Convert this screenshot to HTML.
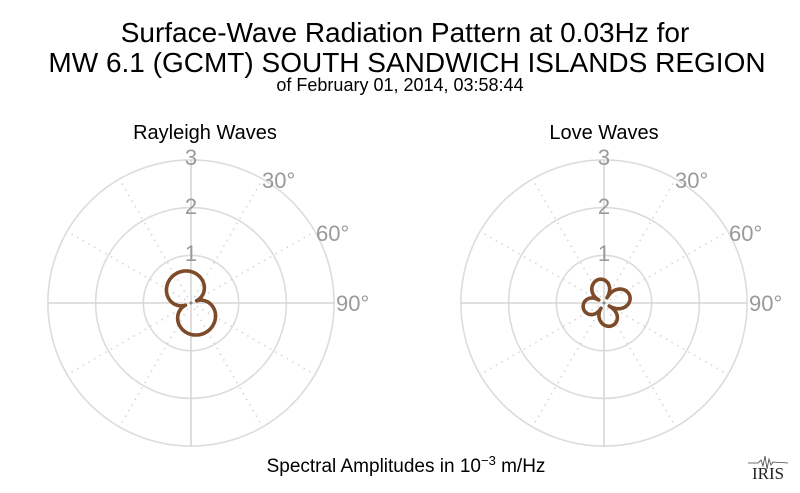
<!DOCTYPE html>
<html><head><style>
body{margin:0;background:#fff;}
svg{display:block;font-family:"Liberation Sans",sans-serif;}
</style></head><body>
<svg id="s" width="800" height="493" xmlns="http://www.w3.org/2000/svg">
<text x="405" y="42" font-size="28" text-anchor="middle" fill="#000">Surface-Wave Radiation Pattern at 0.03Hz for</text>
<text x="407" y="72" font-size="28" text-anchor="middle" fill="#000">MW 6.1 (GCMT) SOUTH SANDWICH ISLANDS REGION</text>
<text x="400" y="91" font-size="18" text-anchor="middle" fill="#000">of February 01, 2014, 03:58:44</text>
<text x="205" y="139" font-size="20" text-anchor="middle" fill="#000">Rayleigh Waves</text>
<text x="604" y="139" font-size="20" text-anchor="middle" fill="#000">Love Waves</text>
<text x="406" y="472" font-size="19" text-anchor="middle" fill="#000">Spectral Amplitudes in 10<tspan dy="-7" font-size="13">−3</tspan><tspan dy="7"> m/Hz</tspan></text>
<g transform="translate(748,455)">
<path d="M0,8 L10,8 L13,5 L15,11 L17,1 L19,14 L21,4 L23,10 L25,7 L40,8" fill="none" stroke="#444" stroke-width="0.8"/>
<text x="20" y="24" font-family="Liberation Serif,serif" font-size="17" text-anchor="middle" fill="#222">IRIS</text>
</g>
<g id="g"></g>
</svg>
<script>
var g=document.getElementById('g'),h='';
function polar(cx,cy,f,phi){
 var R=143,u=47.7;
 for(var k=1;k<=3;k++)h+='<circle cx="'+cx+'" cy="'+cy+'" r="'+(k*u)+'" fill="none" stroke="#dcdcdc" stroke-width="1.6"/>';
 for(var a=0;a<360;a+=30){var t=a*Math.PI/180,x=cx+R*Math.sin(t),y=cy-R*Math.cos(t);
  var sol=a%90==0;h+='<line x1="'+cx+'" y1="'+cy+'" x2="'+x.toFixed(1)+'" y2="'+y.toFixed(1)+'" stroke="#d6d6d6" stroke-width="1.6" '+(sol?'':'stroke-dasharray="1.5,5"')+'/>';}
 var st='font-size="22" fill="#9a9a9a"';
 h+='<text x="'+cx+'" y="'+(cy-138)+'" '+st+' text-anchor="middle">3</text>';
 h+='<text x="'+cx+'" y="'+(cy-89)+'" '+st+' text-anchor="middle">2</text>';
 h+='<text x="'+cx+'" y="'+(cy-42)+'" '+st+' text-anchor="middle">1</text>';
 h+='<text x="'+(cx+71)+'" y="'+(cy-115)+'" '+st+'>30°</text>';
 h+='<text x="'+(cx+125)+'" y="'+(cy-62)+'" '+st+'>60°</text>';
 h+='<text x="'+(cx+145)+'" y="'+(cy+8)+'" '+st+'>90°</text>';
 var d='';for(var i=0;i<=360;i++){var t=i*Math.PI/180,r=f(t-phi*Math.PI/180);
  d+=(i?'L':'M')+(cx+r*Math.sin(t)).toFixed(1)+','+(cy-r*Math.cos(t)).toFixed(1);}
 h+='<path d="'+d+'Z" fill="none" stroke="#7e4b2a" stroke-width="3.6" stroke-linejoin="round"/>';
 h+='<circle cx="'+cx+'" cy="'+cy+'" r="1.5" fill="#888"/>';
}
polar(191,303,function(t){return 6+27*Math.pow(Math.abs(Math.cos(t)),0.8);},-22);
polar(604,303,function(t){var c=Math.abs(Math.cos(2*t));var k=1+0.15*Math.sin(t);return 6+18*k*Math.pow(c,0.6);},-15);
g.innerHTML=h;
</script>
</body></html>
